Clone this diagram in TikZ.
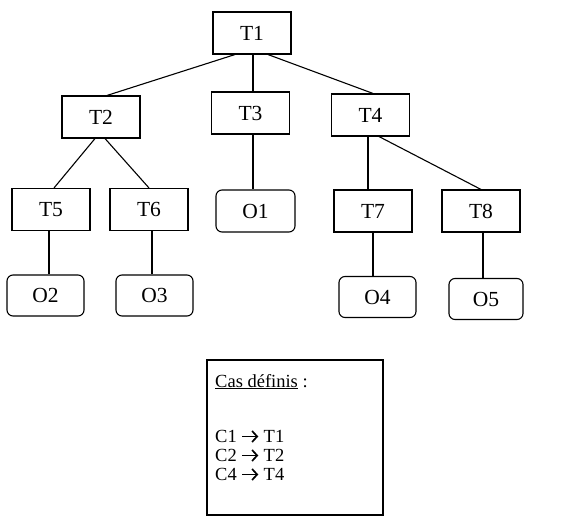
\documentclass[tikz,border=0pt]{standalone}
\usepackage{fontspec}
\usetikzlibrary{arrows.meta}
\setmainfont{Liberation Serif}
\newcommand{\wingarrow}{\tikz[baseline=0pt]\draw[line width=1.7pt, -{Straight Barb[length=5pt,width=11pt,line width=1.7pt]}] (0pt,5.5pt) -- (16pt,5.5pt);}
\begin{document}
\begin{tikzpicture}[x=1pt,y=-1pt,
  tbox/.style={draw, line width=1.1pt, inner sep=0pt, minimum width=78pt, minimum height=42pt, font=\fontsize{21.5}{25}\selectfont},
  obox/.style={tbox, rounded corners=6pt, minimum width=77pt, minimum height=41pt},
  link/.style={line width=1.1pt},
  legtxt/.style={anchor=base west, inner sep=0pt, font=\fontsize{18.5}{19}\selectfont}]
\useasboundingbox (0,0) rectangle (563,524);
\node[tbox] (T1) at (252,33) {T1};
\node[tbox] (T2) at (101,117) {T2};
\node[tbox] (T3) at (250.5,113) {T3};
\node[tbox] (T4) at (370.5,115) {T4};
\node[tbox] (T5) at (51,209.5) {T5};
\node[tbox] (T6) at (149,209.5) {T6};
\node[obox, minimum width=79pt, minimum height=42pt] (O1) at (255.5,211) {O1};
\node[tbox] (T7) at (373,211) {T7};
\node[tbox] (T8) at (481,211) {T8};
\node[obox] (O2) at (45.5,295.5) {O2};
\node[obox] (O3) at (154.5,295.5) {O3};
\node[obox] (O4) at (377.5,297) {O4};
\node[obox, minimum width=74pt] (O5) at (486,299) {O5};
\draw[link] ([xshift=-17pt]T1.south) -- ([xshift=6pt]T2.north);
\draw[link] ([xshift=1pt]T1.south) -- ([xshift=2.5pt]T3.north);
\draw[link] ([xshift=16pt]T1.south) -- ([xshift=2.5pt]T4.north);
\draw[link] ([xshift=-6pt]T2.south) -- ([xshift=3pt]T5.north);
\draw[link] ([xshift=4pt]T2.south) -- (T6.north);
\draw[link] ([xshift=2.5pt]T3.south) -- ([xshift=-2.5pt]O1.north);
\draw[link] ([xshift=-2.5pt]T4.south) -- ([xshift=-5pt]T7.north);
\draw[link] ([xshift=8.5pt]T4.south) -- (T8.north);
\draw[link] ([xshift=-2pt]T5.south) -- ([xshift=3.5pt]O2.north);
\draw[link] ([xshift=3pt]T6.south) -- ([xshift=-2.5pt]O3.north);
\draw[link] (T7.south) -- ([xshift=-4.5pt]O4.north);
\draw[link] ([xshift=2pt]T8.south) -- ([xshift=-3pt]O5.north);
\node[draw, line width=1.1pt, minimum width=176pt, minimum height=155pt, inner sep=0pt] (legend) at (295,437.5) {};
\node[legtxt] (leg0) at (215,387) {\underline{Cas définis} :};
\node[legtxt] (leg1) at (215,442) {C1 \wingarrow{} T1};
\node[legtxt] (leg2) at (215,461) {C2 \wingarrow{} T2};
\node[legtxt] (leg3) at (215,480) {C4 \wingarrow{} T4};
\end{tikzpicture}
\end{document}
